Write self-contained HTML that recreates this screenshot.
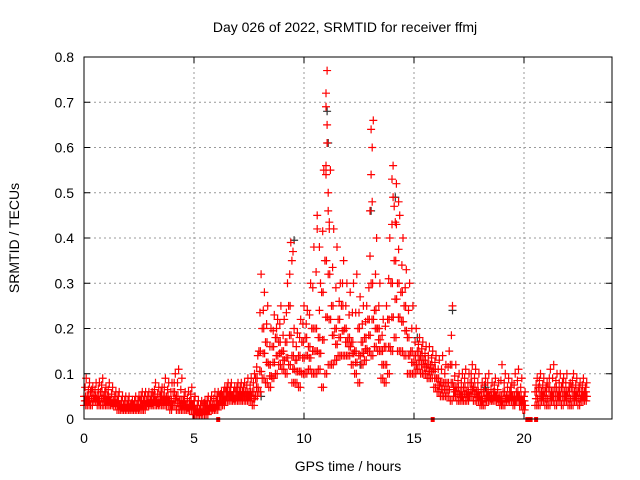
<!DOCTYPE html>
<html><head><meta charset="utf-8"><style>
body{margin:0;background:#fff;}
svg{display:block;font-family:"Liberation Sans",sans-serif;}
</style></head><body>
<svg id="chart" width="640" height="480">
<rect width="640" height="480" fill="#fff"/>
<text x="345" y="32" text-anchor="middle" font-size="14">Day 026 of 2022, SRMTID for receiver ffmj</text>
<text x="348" y="471" text-anchor="middle" font-size="14">GPS time / hours</text>
<text transform="translate(19,238) rotate(-90)" text-anchor="middle" font-size="14">SRMTID / TECUs</text>
<g id="grid"></g>
<g id="ticks"></g>
<g id="marks"></g>
<rect x="84" y="57" width="528" height="362" fill="none" stroke="#000" stroke-width="1"/>
</svg>
<script>
const xTicks=[0,5,10,15,20];
const yTicks=[0,0.1,0.2,0.3,0.4,0.5,0.6,0.7,0.8];
const yTickLabels=["0","0.1","0.2","0.3","0.4","0.5","0.6","0.7","0.8"];
const times=[0.0,0.15,0.3,0.45,0.6,0.75,0.9,1.05,1.2,1.35,1.5,1.65,1.8,1.95,2.1,2.25,2.4,2.55,2.7,2.85,3.0,3.15,3.3,3.45,3.6,3.75,3.9,4.05,4.2,4.35,4.5,4.65,4.8,4.95,5.1,5.25,5.4,5.55,5.7,5.85,6.0,6.15,6.3,6.45,6.6,6.75,6.9,7.05,7.2,7.35,7.5,7.65,7.8,7.95,8.1,8.25,8.4,8.55,8.7,8.85,9.0,9.15,9.3,9.45,9.6,9.75,9.9,10.05,10.2,10.35,10.5,10.65,10.8,10.95,11.1,11.25,11.4,11.55,11.7,11.85,12.0,12.15,12.3,12.45,12.6,12.75,12.9,13.05,13.2,13.35,13.5,13.65,13.8,13.95,14.1,14.25,14.4,14.55,14.7,14.85,15.0,15.15,15.3,15.45,15.6,15.75,15.9,16.05,16.2,16.35,16.5,16.65,16.8,16.95,17.1,17.25,17.4,17.55,17.7,17.85,18.0,18.15,18.3,18.45,18.6,18.75,18.9,19.05,19.2,19.35,19.5,19.65,19.8,19.95,20.5,20.65,20.8,20.95,21.1,21.25,21.4,21.55,21.7,21.85,22.0,22.15,22.3,22.45,22.6,22.75];
const vLow=[.03,.03,.03,.04,.03,.03,.03,.03,.03,.03,.02,.02,.02,.02,.02,.02,.02,.02,.02,.03,.03,.03,.03,.03,.03,.03,.02,.03,.02,.02,.02,.02,.02,.01,.01,.01,.01,.01,.02,.02,.02,.03,.03,.04,.04,.04,.04,.04,.04,.04,.04,.03,.05,.06,.09,.08,.07,.09,.10,.12,.11,.10,.12,.08,.08,.07,.10,.10,.11,.10,.10,.11,.07,.10,.12,.12,.13,.14,.14,.14,.14,.12,.10,.08,.12,.13,.15,.14,.16,.15,.09,.08,.10,.15,.18,.15,.15,.14,.10,.10,.10,.11,.10,.10,.09,.09,.07,.06,.05,.05,.05,.04,.05,.04,.04,.04,.04,.05,.04,.04,.03,.03,.04,.04,.04,.04,.03,.03,.04,.04,.03,.04,.03,.02,.03,.03,.04,.03,.03,.04,.03,.04,.03,.04,.03,.03,.04,.03,.04,.04];
const vMid=[.05,.05,.06,.05,.05,.06,.05,.05,.04,.04,.04,.03,.03,.03,.03,.03,.03,.04,.04,.04,.04,.05,.04,.05,.05,.05,.04,.06,.05,.04,.04,.03,.04,.03,.02,.02,.03,.03,.03,.03,.04,.05,.05,.06,.06,.05,.06,.06,.06,.06,.06,.06,.09,.15,.20,.17,.12,.16,.18,.17,.15,.17,.25,.14,.13,.14,.17,.18,.16,.20,.20,.18,.28,.35,.32,.25,.20,.22,.25,.20,.18,.17,.15,.20,.17,.18,.22,.30,.24,.20,.15,.16,.22,.30,.35,.30,.28,.25,.18,.15,.14,.15,.14,.13,.12,.12,.11,.09,.08,.08,.08,.12,.07,.07,.06,.07,.06,.08,.07,.06,.05,.06,.06,.05,.06,.05,.05,.06,.05,.06,.05,.06,.05,.04,.06,.07,.06,.06,.07,.06,.07,.06,.07,.06,.06,.07,.06,.06,.06,.06];
const vHigh=[.09,.08,.07,.08,.08,.09,.07,.08,.07,.06,.06,.05,.05,.05,.04,.05,.05,.06,.06,.06,.06,.08,.07,.07,.09,.08,.08,.10,.11,.09,.06,.06,.07,.05,.04,.04,.04,.05,.05,.06,.06,.06,.07,.08,.08,.07,.08,.08,.08,.09,.09,.10,.14,.32,.28,.25,.20,.23,.22,.25,.22,.30,.39,.20,.19,.22,.25,.24,.30,.38,.45,.30,.55,.77,.55,.42,.38,.30,.35,.30,.28,.30,.32,.27,.25,.25,.36,.66,.40,.30,.22,.25,.40,.56,.52,.45,.40,.33,.30,.25,.20,.18,.17,.16,.16,.15,.14,.13,.14,.12,.15,.25,.12,.10,.10,.11,.10,.12,.11,.10,.08,.09,.10,.08,.09,.08,.12,.10,.09,.08,.10,.11,.09,.06,.09,.10,.09,.08,.11,.12,.10,.10,.09,.10,.08,.10,.09,.08,.09,.08];
const spikeT=[11.0,11.0,11.05,11.05,11.0,11.1,11.1,11.15,13.05,13.1,13.05,13.0,14.0,14.05,14.1,14.3,14.2,9.5,9.45,10.6,10.7];
const spikeV=[.72,.69,.65,.61,.54,.50,.46,.42,.64,.60,.54,.46,.53,.49,.47,.48,.43,.37,.35,.42,.38];
const darkT=[9.5,11.0,11.05,13.0,14.1,15.1,16.7,8.0,12.5,18.2,3.1];
const darkV=[.395,.68,.61,.46,.49,.18,.24,.05,.12,.07,.04];
const zeroT=[6.1,15.85,20.15,20.3,20.55];

const NS="http://www.w3.org/2000/svg";
const X0=84,X1=612,Y0=419,Y1=57,XMAX=24,YMAX=0.8;
function sx(t){return X0+(X1-X0)*t/XMAX;}
function sy(v){return Y0-(Y0-Y1)*v/YMAX;}
const grid=document.getElementById('grid'),ticks=document.getElementById('ticks'),marks=document.getElementById('marks');
function mk(tag,attrs,parent){const e=document.createElementNS(NS,tag);for(const k in attrs)e.setAttribute(k,attrs[k]);parent.appendChild(e);return e;}
yTicks.forEach((v,i)=>{
  const y=sy(v);
  if(i>0&&i<yTicks.length-1){const g=mk('line',{x1:X0,x2:X1,y1:y,y2:y,stroke:'#999','stroke-dasharray':'2,3'},grid);
  
  }
  mk('line',{x1:X0,x2:X0+6,y1:y,y2:y,stroke:'#000'},ticks);
  mk('line',{x1:X1,x2:X1-6,y1:y,y2:y,stroke:'#000'},ticks);
  const t=mk('text',{x:X0-10,y:y+5,'text-anchor':'end','font-size':'14'},ticks);t.textContent=yTickLabels[i];
  
  
});
xTicks.forEach(v=>{
  const x=sx(v);
  if(v>0){const g=mk('line',{x1:x,x2:x,y1:Y0,y2:Y1,stroke:'#999','stroke-dasharray':'2,3'},grid);
  
  }
  mk('line',{x1:x,x2:x,y1:Y0,y2:Y0-6,stroke:'#000'},ticks);
  mk('line',{x1:x,x2:x,y1:Y1,y2:Y1+6,stroke:'#000'},ticks);
  const t=mk('text',{x:x,y:Y0+24,'text-anchor':'middle','font-size':'14'},ticks);t.textContent=String(v);
  
  
});
function plus(t,v,color,name){
  const x=sx(t),y=sy(v);
  const p=mk('path',{d:`M${x-4},${y}H${x+4}M${x},${y-4}V${y+4}`,stroke:color,'stroke-width':'1.2',fill:'none'},marks);
  
  
}
darkT.forEach((t,i)=>plus(t+0.05,darkV[i],'#333','dark-point'));
times.forEach((t,i)=>{
  const lo=vLow[i],md=vMid[i],hi=vHigh[i];
  plus(t,lo,'#f00','point');
  plus(t+0.08,lo,'#f00','point');
  plus(t+0.04,(lo+md)/2,'#f00','point');
  plus(t+0.11,(lo+md)/2,'#f00','point');
  plus(t+0.07,md,'#f00','point');
  plus(t,md,'#f00','point');
  plus(t+0.05,(md+hi)/2,'#f00','point');
  plus(t+0.1,hi,'#f00','point');
});
spikeT.forEach((t,i)=>plus(t,spikeV[i],'#f00','spike-point'));
zeroT.forEach(t=>{
  const r=mk('rect',{x:sx(t)-2,y:Y0-2,width:4,height:5,fill:'#f00'},marks);
  
  
});
</script>
</body></html>
